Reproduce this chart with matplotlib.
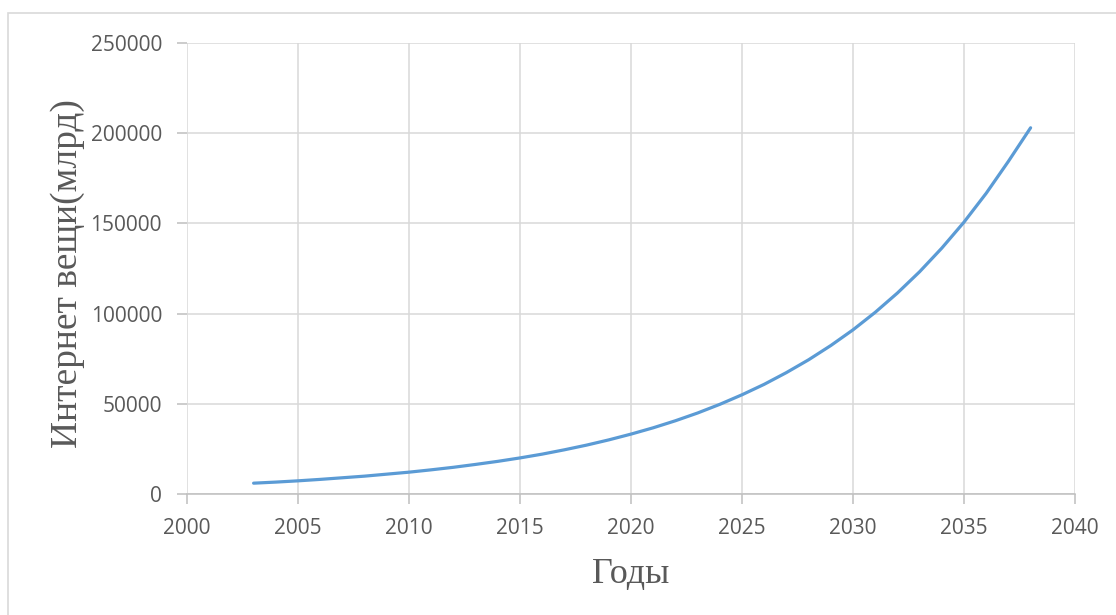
import matplotlib
matplotlib.use("Agg")
import matplotlib.pyplot as plt
from matplotlib.patches import Rectangle

# annual estimates, billions of IoT devices
years = list(range(2003, 2039))
devices = [6000, 6600, 7300, 8100, 9000, 9900, 11000, 12100, 13400, 14800,
           16400, 18100, 20000, 22100, 24500, 27100, 30000, 33200, 36700, 40600,
           44900, 49700, 55000, 60800, 67300, 74400, 82300, 91000, 100700, 111400,
           123200, 136300, 150700, 166700, 184400, 203000]

x_ticks = [2000, 2005, 2010, 2015, 2020, 2025, 2030, 2035, 2040]
y_ticks = [0, 50000, 100000, 150000, 200000, 250000]

W, H = 1116, 615
fig = plt.figure(figsize=(W / 100, H / 100), dpi=100)
ax = fig.add_axes([187 / W, 1 - 494 / H, (1075 - 187) / W, (494 - 43) / H])

ax.plot(years, devices, color="#5b9bd5", linewidth=2.3, solid_capstyle="round")

ax.set_xlim(2000, 2040)
ax.set_ylim(0, 250000)
ax.set_xticks(x_ticks)
ax.set_yticks(y_ticks)
ax.grid(True, color="#d9d9d9", linewidth=1.1)
ax.set_axisbelow(True)

for side in ["top", "right", "left"]:
    ax.spines[side].set_visible(False)
ax.spines["bottom"].set_color("#bfbfbf")
ax.spines["bottom"].set_linewidth(1.1)

tick_font = {"family": "Open Sans", "size": 15}
ax.tick_params(axis="both", colors="#bfbfbf", length=7, width=1.1, labelcolor="#595959")
ax.tick_params(axis="y", pad=11)
ax.tick_params(axis="x", pad=10)
for lbl in ax.get_xticklabels() + ax.get_yticklabels():
    lbl.set_fontfamily(tick_font["family"])
    lbl.set_fontsize(tick_font["size"])

fig.text(68 / W, 1 - 274 / H, "Интернет вещи(млрд)", rotation=90, ha="center", va="center",
         family="Liberation Serif", fontsize=27, color="#595959")
fig.text(631 / W, 1 - 583 / H, "Годы", ha="center", va="baseline",
         family="Liberation Serif", fontsize=26, color="#595959")

# chart frame
fig.patches.append(Rectangle((8 / W, -0.2), 1.2, 1 - 13 / H + 0.2, transform=fig.transFigure,
                             fill=False, edgecolor="#d9d9d9", linewidth=1.2))

fig.savefig("out.png", dpi=100)
